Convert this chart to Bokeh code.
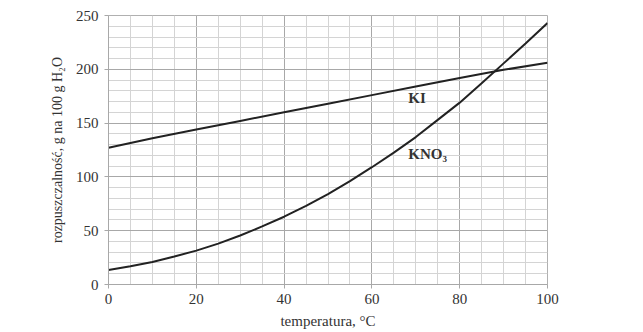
from bokeh.plotting import figure
from bokeh.models import FixedTicker, Range1d
from bokeh.core.properties import value
from bokeh.embed import file_html
from bokeh.resources import INLINE

ki_temps = [0, 10, 20, 30, 40, 50, 60, 70, 80, 90, 100]
ki = [127, 136, 144, 152, 160, 168, 176, 184, 192, 199.5, 206]

kno3_temps = [0, 5, 10, 15, 20, 25, 30, 35, 40, 45, 50, 55, 60, 65, 70, 75, 80, 85, 90, 95, 100]
kno3 = [13.5, 17, 21, 26, 31.5, 38, 45.5, 54, 63, 73, 84, 96, 109, 122.5, 137, 153, 169, 187, 205.5, 224, 243]

x_ticks = [0, 20, 40, 60, 80, 100]
x_minor = list(range(0, 101, 5))
y_ticks = [0, 50, 100, 150, 200, 250]
y_minor = list(range(0, 251, 10))

label_text = ["KI", "KNO\u2083"]
label_x = [68.3, 68.3]
label_y = [173, 121]

FONT = "Liberation Serif"

p = figure(width=635, height=332, output_backend="svg", toolbar_location=None,
           x_range=Range1d(0, 100), y_range=Range1d(0, 250),
           min_border_left=108, min_border_right=88, min_border_top=15, min_border_bottom=48)
p.outline_line_color = "#b0b0b0"
p.background_fill_color = "white"

p.xaxis.ticker = FixedTicker(ticks=x_ticks, minor_ticks=x_minor)
p.yaxis.ticker = FixedTicker(ticks=y_ticks, minor_ticks=y_minor)

for g in (p.xgrid, p.ygrid):
    g.grid_line_color = "#a8a8a8"
    g.grid_line_width = 1
    g.minor_grid_line_color = "#d4d4d4"
    g.minor_grid_line_width = 1

for ax in (p.xaxis, p.yaxis):
    ax.axis_line_color = "#a8a8a8"
    ax.major_tick_line_color = "#a8a8a8"
    ax.major_tick_out = 4
    ax.major_tick_in = 0
    ax.minor_tick_line_color = None
    ax.major_label_text_font = FONT
    ax.major_label_text_font_size = "15px"
    ax.major_label_text_color = "#333333"
    ax.axis_label_text_font = FONT
    ax.axis_label_text_font_style = "normal"
    ax.axis_label_text_color = "#333333"

p.xaxis.axis_label_text_font_size = "15px"
p.yaxis.axis_label_text_font_size = "14px"
p.xaxis.axis_label = "temperatura, \u00b0C"
p.yaxis.axis_label = "rozpuszczalno\u015b\u0107, g na 100 g H\u2082O"
p.xaxis.major_label_standoff = 5
p.yaxis.major_label_standoff = 6
p.xaxis.axis_label_standoff = 6
p.yaxis.axis_label_standoff = 8

p.line(ki_temps, ki, line_color="#222222", line_width=2)
p.line(kno3_temps, kno3, line_color="#222222", line_width=2)

p.text(x=label_x, y=label_y, text=label_text, text_font=value(FONT),
       text_font_style="bold", text_font_size="15px", text_color="#333333",
       text_align="left", text_baseline="middle")

open("out.html", "w").write(file_html(p, INLINE))
